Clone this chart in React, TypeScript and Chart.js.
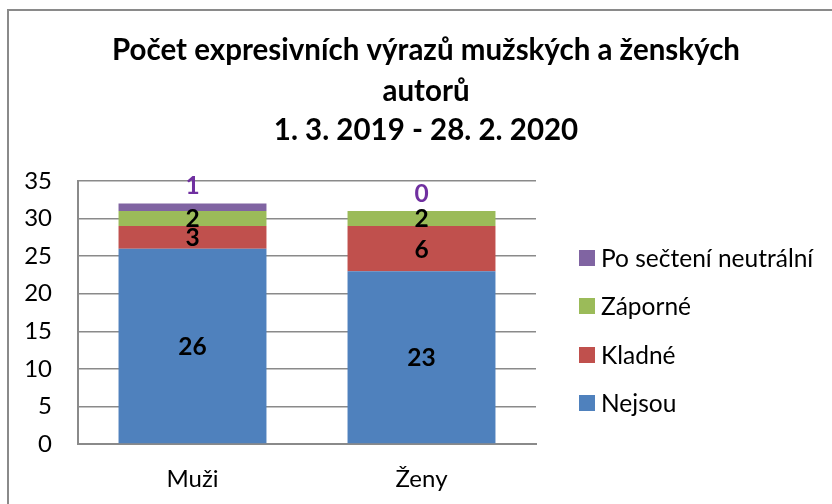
import React, { useEffect, useRef } from "react";
import { Chart, registerables } from "chart.js";

Chart.register(...registerables);

const categories = ["Muži", "Ženy"];
const seriesNames = ["Nejsou", "Kladné", "Záporné", "Po sečtení neutrální"];
const nejsou = [26, 23];
const kladne = [3, 6];
const zaporne = [2, 2];
const neutralni = [1, 0];
const seriesColors = ["#4F81BD", "#C0504D", "#9BBB59", "#8064A2"];
const titleLines = ["Počet expresivních výrazů mužských a ženských", "autorů", "1. 3. 2019 - 28. 2. 2020"];
const yTicks = [0, 5, 10, 15, 20, 25, 30, 35];

const FONT = "Lato, 'Open Sans', sans-serif";

const decorPlugin = {
  id: "decor",
  beforeDraw(chart: any) {
    const ctx = chart.ctx;
    ctx.save();
    ctx.fillStyle = "#ffffff";
    ctx.fillRect(0, 0, chart.width, chart.height);
    ctx.strokeStyle = "#8a8a8a";
    ctx.lineWidth = 2;
    ctx.strokeRect(8, 10, chart.width + 20, chart.height + 20);
    ctx.restore();
  },
  afterDraw(chart: any) {
    const ctx = chart.ctx;
    ctx.save();
    ctx.fillStyle = "#000";
    ctx.font = `bold 29.5px ${FONT}`;
    ctx.textAlign = "center";
    ctx.textBaseline = "middle";
    const titleY = [50, 91, 130];
    titleLines.forEach((t, i) => ctx.fillText(t, 426, titleY[i]));
    ctx.font = `24.5px ${FONT}`;
    ctx.textAlign = "left";
    const rowsY = [258, 306, 355, 403];
    for (let i = 0; i < seriesNames.length; i++) {
      const di = seriesNames.length - 1 - i;
      const y = rowsY[i];
      ctx.fillStyle = seriesColors[di];
      ctx.fillRect(579, y - 8, 16, 16);
      ctx.fillStyle = "#000";
      ctx.fillText(seriesNames[di], 601, y + 1);
    }
    ctx.restore();
  },
  afterDatasetsDraw(chart: any) {
    const ctx = chart.ctx;
    ctx.save();
    ctx.font = `bold 24.5px ${FONT}`;
    ctx.textAlign = "center";
    ctx.textBaseline = "middle";
    chart.data.datasets.forEach((ds: any, di: number) => {
      const meta = chart.getDatasetMeta(di);
      meta.data.forEach((el: any, i: number) => {
        const v = ds.data[i];
        if (di === 3) {
          ctx.fillStyle = "#7030A0";
          ctx.fillText(String(v), el.x, Math.min(el.y, el.base) - 17);
        } else {
          ctx.fillStyle = "#000";
          ctx.fillText(String(v), el.x, (el.y + el.base) / 2 + 1);
        }
      });
    });
    ctx.restore();
  },
};

export default function App() {
  const ref = useRef<HTMLCanvasElement>(null);
  useEffect(() => {
    if (!ref.current) return;
    const data = [nejsou, kladne, zaporne, neutralni];
    const chart = new Chart(ref.current, {
      type: "bar",
      data: {
        labels: categories,
        datasets: seriesNames.map((name, i) => ({
          label: name,
          data: data[i],
          backgroundColor: seriesColors[i],
          borderWidth: 0,
          categoryPercentage: 1,
          barPercentage: 0.646,
        })),
      },
      options: {
        responsive: false,
        animation: false,
        devicePixelRatio: 1,
        layout: { padding: { left: 0, top: 181, right: 296, bottom: 0 } },
        plugins: {
          legend: { display: false },
          title: { display: false },
          tooltip: { enabled: false },
        },
        scales: {
          x: {
            stacked: true,
            grid: { display: false, drawTicks: false },
            border: { display: true, color: "#8a8a8a", width: 2 },
            ticks: { color: "#000", font: { family: FONT, size: 24 }, padding: 21 },
            afterFit: (s: any) => { s.height = 60; },
          },
          y: {
            stacked: true,
            min: 0,
            max: 35,
            afterBuildTicks: (s: any) => { s.ticks = yTicks.map((v) => ({ value: v })); },
            grid: { color: "#8a8a8a", lineWidth: 1.5, drawTicks: false },
            border: { display: true, color: "#8a8a8a", width: 2 },
            ticks: { color: "#000", font: { family: FONT, size: 24 }, padding: 26 },
            afterFit: (s: any) => { s.width = 78; },
          },
        },
      },
      plugins: [decorPlugin],
    });
    return () => chart.destroy();
  }, []);
  return (
    <div style={{ position: "fixed", left: 0, top: 0, width: 832, height: 504, background: "#fff" }}>
      <canvas ref={ref} width={832} height={504} style={{ width: 832, height: 504, display: "block" }} />
    </div>
  );
}
